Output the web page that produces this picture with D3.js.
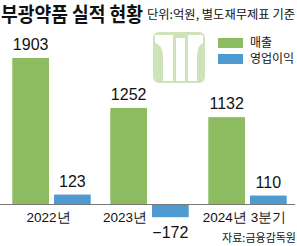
<html>
<head>
<script src="https://d3js.org/d3.v7.min.js"></script>
<style>
  body { margin: 0; background: #fff; }
  svg { display: block; }
  text { font-family: "Liberation Sans", Arial, sans-serif; fill: #111; }
  .kr { font-family: "Noto Sans CJK KR", sans-serif; }
</style>
</head>
<body>
<svg id="chart" width="297" height="246"></svg>
<script>
// data
var categories = ["2022년", "2023년", "2024년 3분기"];
var series = ["매출", "영업이익"];
var sales = [1903, 1252, 1132];
var opProfit = [123, -172, 110];
var colors = ["#8dbb5f", "#4f9ad0"];

var svg = d3.select("#chart");

// scales
var x0 = d3.scaleBand().domain(categories).range([2.5, 296.5]).paddingInner(0.2).paddingOuter(0.1);
var x1 = d3.scaleBand().domain(series).range([0, x0.bandwidth()]).paddingInner(0.12);
var y = d3.scaleLinear().domain([0, 1903]).range([204, 58]);

// title
svg.append("text").attr("class", "kr")
  .attr("x", 1).attr("y", 22)
  .attr("font-size", 20).attr("font-weight", "bold")
  .attr("textLength", 142).attr("lengthAdjust", "spacingAndGlyphs")
  .text("부광약품 실적 현황");
svg.append("text").attr("class", "kr")
  .attr("x", 147).attr("y", 19)
  .attr("font-size", 12)
  .attr("textLength", 148).attr("lengthAdjust", "spacingAndGlyphs")
  .text("단위:억원, 별도재무제표 기준");

// logo
var logo = svg.append("g");
logo.append("rect").attr("x", 153).attr("y", 32).attr("width", 52).attr("height", 51)
  .attr("rx", 6).attr("fill", "#cfe3b8");
logo.append("path").attr("fill", "#fff")
  .attr("d", "M155,35 L173,35 L173,81 L163,81 L163,56 Q162,44 155,43 Z");
logo.append("rect").attr("x", 176).attr("y", 38).attr("width", 9).attr("height", 43).attr("fill", "#fff");
logo.append("path").attr("fill", "#fff")
  .attr("d", "M203,35 L188,35 L188,81 L197,81 L197,56 Q198,44 203,43 Z");

// legend
var legend = svg.append("g");
series.forEach(function(s, i) {
  legend.append("rect").attr("x", 218).attr("y", 38 + i * 16)
    .attr("width", 25).attr("height", 10).attr("fill", colors[i]);
  legend.append("text").attr("class", "kr")
    .attr("x", 250).attr("y", 47 + i * 16).attr("font-size", 12)
    .text(s);
});

// bars
var rows = categories.map(function(c, i) {
  return { cat: c, vals: [sales[i], opProfit[i]] };
});

var groups = svg.selectAll("g.grp").data(rows).enter().append("g")
  .attr("class", "grp")
  .attr("transform", function(d) { return "translate(" + x0(d.cat) + ",0)"; });

groups.selectAll("rect").data(function(d) {
  return d.vals.map(function(v, j) { return { s: series[j], v: v, j: j }; });
}).enter().append("rect")
  .attr("x", function(d) { return x1(d.s); })
  .attr("y", function(d) { return y(Math.max(0, d.v)); })
  .attr("width", x1.bandwidth())
  .attr("height", function(d) { return Math.abs(y(d.v) - y(0)); })
  .attr("fill", function(d) { return colors[d.j]; });

groups.selectAll("text.val").data(function(d) {
  return d.vals.map(function(v, j) { return { s: series[j], v: v }; });
}).enter().append("text")
  .attr("class", "val")
  .attr("x", function(d) { return x1(d.s) + x1.bandwidth() / 2; })
  .attr("y", function(d) { return d.v >= 0 ? y(d.v) - 8 : y(d.v) + 21; })
  .attr("text-anchor", "middle")
  .attr("font-size", 16)
  .text(function(d) { return d.v < 0 ? "\u2212" + Math.abs(d.v) : d.v; });

// baseline
svg.append("line").attr("x1", 0).attr("x2", 295)
  .attr("y1", y(0) + 0.5).attr("y2", y(0) + 0.5)
  .attr("stroke", "#777").attr("stroke-width", 1);

// category labels
rows.forEach(function(d, i) {
  var neg = opProfit[i] < 0;
  svg.append("text")
    .attr("x", neg ? x0(d.cat) + x1("매출") + x1.bandwidth() : x0(d.cat) + x0.bandwidth() / 2 - 3)
    .attr("y", 222)
    .attr("text-anchor", neg ? "end" : "middle")
    .attr("font-size", 13.5)
    .text(d.cat);
});

// source
svg.append("text").attr("class", "kr")
  .attr("x", 296).attr("y", 242).attr("text-anchor", "end")
  .attr("font-size", 11)
  .text("자료:금융감독원");
</script>
</body>
</html>
